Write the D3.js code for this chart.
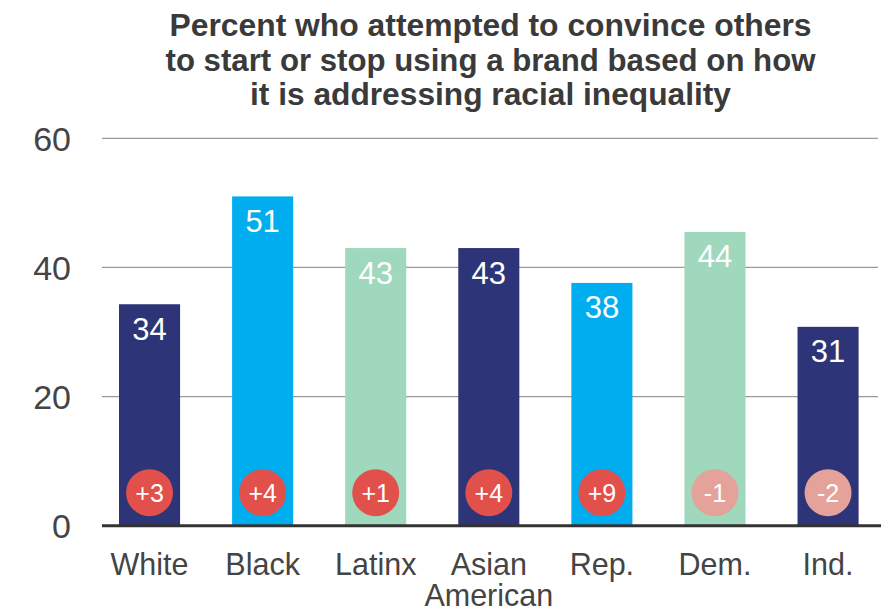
<!DOCTYPE html>
<html>
<head>
<meta charset="utf-8">
<script src="https://cdn.jsdelivr.net/npm/d3@7"></script>
<style>
  html, body { margin: 0; padding: 0; background: #fff; }
  svg { display: block; }
</style>
</head>
<body>
<svg id="chart" width="891" height="612"></svg>
<script>
const categories = ["White", "Black", "Latinx", "Asian American", "Rep.", "Dem.", "Ind."];
const values = [34.3, 51, 43, 43, 37.6, 45.5, 30.8];
const valueLabels = ["34", "51", "43", "43", "38", "44", "31"];
const changes = ["+3", "+4", "+1", "+4", "+9", "-1", "-2"];
const barColors = ["#2E3478", "#00AEEF", "#9FD8BD", "#2E3478", "#00AEEF", "#9FD8BD", "#2E3478"];
const yTicks = [0, 20, 40, 60];
const titleLines = [
  "Percent who attempted to convince others",
  "to start or stop using a brand based on how",
  "it is addressing racial inequality"
];

const svg = d3.select("#chart");
const font = "'Liberation Sans', Arial, sans-serif";

const x = d3.scaleBand().domain(categories).range([93, 884.6]).paddingInner(0.46).paddingOuter(0.23);
const y = d3.scaleLinear().domain([0, 60]).range([525.7, 138.3]);

// Title
const titleLayout = [
  { y: 36, w: 642 },
  { y: 71, w: 650 },
  { y: 105, w: 481 }
];
const title = svg.append("g");
titleLines.forEach((t, i) => {
  title.append("text")
    .attr("x", 490.5).attr("y", titleLayout[i].y)
    .attr("text-anchor", "middle")
    .attr("font-family", font)
    .attr("font-weight", 700)
    .attr("font-size", 31.5)
    .attr("fill", "#3a3a3a")
    .attr("textLength", titleLayout[i].w)
    .attr("lengthAdjust", "spacingAndGlyphs")
    .text(t);
});

// Y axis labels
const yAxis = d3.axisLeft(y).tickValues(yTicks).tickSize(0).tickPadding(0).tickFormat(d3.format("d"));
const gy = svg.append("g").attr("transform", "translate(71,0)").call(yAxis);
gy.select(".domain").remove();
gy.selectAll("text")
  .attr("font-family", font).attr("font-size", 34).attr("fill", "#444")
  .attr("dy", "0.36em");

// Gridlines
svg.append("g").selectAll("line")
  .data(yTicks.filter(d => d !== 0))
  .join("line")
  .attr("x1", 102).attr("x2", 878)
  .attr("y1", d => y(d)).attr("y2", d => y(d))
  .attr("stroke", "#9a9a9a").attr("stroke-width", 1.2);

// Bars
svg.append("g").selectAll("rect")
  .data(categories)
  .join("rect")
  .attr("x", d => x(d))
  .attr("width", x.bandwidth())
  .attr("y", (d, i) => y(values[i]))
  .attr("height", (d, i) => y(0) - y(values[i]))
  .attr("fill", (d, i) => barColors[i]);

// Value labels
svg.append("g").selectAll("text")
  .data(categories)
  .join("text")
  .attr("x", d => x(d) + x.bandwidth() / 2)
  .attr("y", (d, i) => y(values[i]) + 35.5)
  .attr("text-anchor", "middle")
  .attr("font-family", font).attr("font-size", 31)
  .attr("fill", "#fff")
  .text((d, i) => valueLabels[i]);

// Baseline
svg.append("line")
  .attr("x1", 102).attr("x2", 881)
  .attr("y1", y(0)).attr("y2", y(0))
  .attr("stroke", "#333").attr("stroke-width", 3);

// Change badges
const badges = svg.append("g").selectAll("g")
  .data(categories)
  .join("g")
  .attr("transform", d => `translate(${x(d) + x.bandwidth() / 2},${y(0) - 33})`);
badges.append("circle")
  .attr("r", 23.5)
  .attr("fill", (d, i) => changes[i].startsWith("-") ? "#E5A29B" : "#E1504A");
badges.append("text")
  .attr("text-anchor", "middle")
  .attr("dy", "0.36em")
  .attr("font-family", font).attr("font-size", 25)
  .attr("fill", "#fff")
  .text((d, i) => changes[i]);

// Category labels
const xAxis = d3.axisBottom(x).tickSize(0).tickPadding(0);
const gx = svg.append("g").attr("transform", `translate(0,${y(0)})`).call(xAxis);
gx.select(".domain").remove();
gx.selectAll("text")
  .attr("font-family", font).attr("font-size", 30.5).attr("fill", "#444")
  .attr("y", 0).attr("dy", null)
  .each(function(d) {
    const t = d3.select(this);
    t.text(null);
    const words = d === "Asian American" ? ["Asian", "American"] : [d];
    words.forEach((wd, i) => {
      t.append("tspan").attr("x", 0).attr("y", 49.5 + i * 31).text(wd);
    });
  });
</script>
</body>
</html>
